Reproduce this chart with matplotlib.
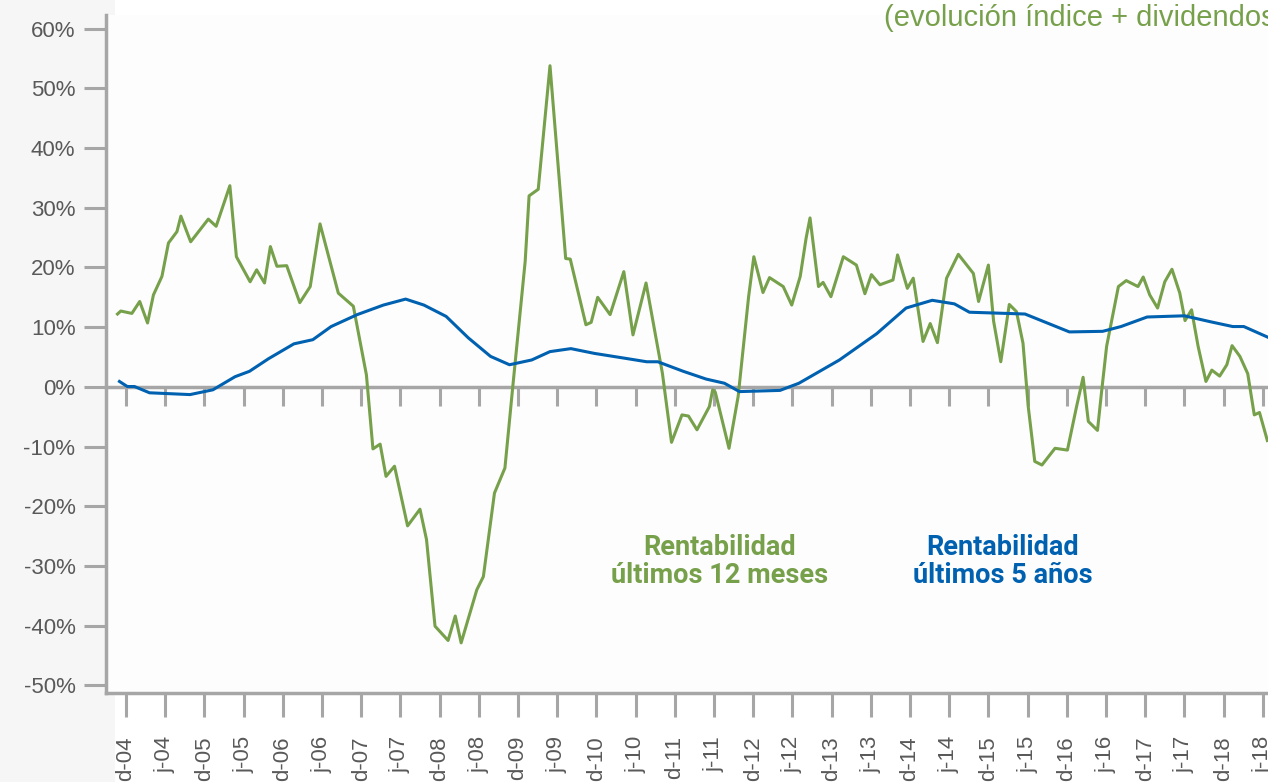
import matplotlib.pyplot as plt
from matplotlib.patches import Rectangle

# months counted from the first tick ("d-04"), one tick every 6 months
tick_labels = []
for yy in range(4, 19):
    tick_labels += [f"d-{yy:02d}", f"j-{yy:02d}"]
tick_pos = [6 * i for i in range(len(tick_labels))]

# Rentabilidad ultimos 12 meses (%)
green_x = [-1.3, -0.8, 0.9, 2.1, 3.3, 4.2, 5.5, 6.5, 7.8, 8.4, 9.9, 12.6, 13.8, 15.9,
           16.9, 19.0, 20.0, 21.2, 22.1, 23.1, 24.6, 26.6, 28.2, 29.7, 32.5, 34.8,
           36.8, 37.8, 38.9, 39.8, 41.1, 43.1, 45.0, 46.0, 47.3, 49.3, 50.4, 51.3,
           53.7, 54.7, 56.4, 58.0, 59.2, 61.1, 61.7, 63.1, 64.9, 67.3, 68.0, 70.4,
           71.2, 72.2, 74.1, 76.2, 77.6, 79.6, 82.1, 83.5, 85.1, 86.1, 87.4, 89.3,
           89.8, 90.2, 92.3, 93.7, 95.3, 96.1, 97.5, 98.5, 100.6, 101.9, 103.2,
           104.1, 104.7, 106.0, 106.7, 107.9, 109.8, 111.8, 113.1, 114.1, 115.4,
           117.4, 118.1, 119.6, 120.5, 122.0, 123.1, 124.2, 125.6, 127.4, 129.7,
           130.5, 132.0, 132.8, 133.9, 135.2, 136.3, 137.3, 138.1, 139.1, 140.2,
           142.2, 144.1, 145.5, 146.5, 147.3, 148.7, 149.3, 150.1, 151.9, 153.1,
           154.9, 155.7, 156.7, 157.9, 159.0, 160.1, 161.3, 162.1, 163.1, 164.1,
           165.3, 166.2, 167.4, 168.5, 169.3, 170.5, 171.7, 172.7, 173.5, 174.7]
green_y = [12.2, 12.7, 12.3, 14.3, 10.7, 15.4, 18.5, 24.1, 26.0, 28.6, 24.3, 28.1, 26.9,
           33.7, 21.8, 17.6, 19.6, 17.4, 23.5, 20.2, 20.3, 14.1, 16.8, 27.3, 15.7,
           13.5, 2.0, -10.4, -9.6, -15.0, -13.3, -23.3, -20.5, -25.6, -40.1, -42.5,
           -38.4, -42.9, -34.0, -31.8, -17.8, -13.6, 0.0, 21.0, 32.0, 33.1, 53.8,
           21.5, 21.4, 10.4, 10.8, 15.0, 12.1, 19.3, 8.7, 17.4, 2.3, -9.3, -4.7,
           -4.9, -7.2, -3.3, -0.5, -0.9, -10.3, -1.6, 15.1, 21.8, 15.8, 18.3, 16.8,
           13.7, 18.5, 24.9, 28.3, 16.8, 17.5, 15.1, 21.8, 20.4, 15.6, 18.8, 17.1,
           17.9, 22.1, 16.5, 18.2, 7.6, 10.6, 7.4, 18.2, 22.2, 19.0, 14.3, 20.4,
           11.0, 4.2, 13.8, 12.6, 7.3, -3.3, -12.5, -13.1, -10.3, -10.6, -3.3, 1.6,
           -5.8, -7.3, -1.1, 6.8, 16.8, 17.8, 16.8, 18.4, 15.4, 13.2, 17.6, 19.7,
           15.7, 11.1, 12.9, 6.8, 0.9, 2.8, 1.8, 3.7, 6.9, 5.1, 2.2, -4.7, -4.3, -9.0]

# Rentabilidad ultimos 5 anos (%)
blue_x = [-1.0, 0.2, 1.3, 3.6, 9.8, 13.3, 16.7, 18.9, 21.8, 25.7, 28.6, 31.4, 35.4,
          39.4, 42.8, 45.6, 49.0, 52.4, 55.8, 58.7, 62.1, 64.9, 68.1, 71.7, 76.3,
          79.7, 81.4, 85.3, 88.8, 91.6, 93.9, 100.1, 103.0, 109.2, 114.9, 119.4,
          123.4, 126.8, 129.1, 137.6, 141.0, 144.4, 149.5, 152.3, 156.3, 162.0,
          166.0, 169.4, 171.1, 174.8]
blue_y = [0.9, 0.05, 0.05, -1.0, -1.3, -0.5, 1.7, 2.6, 4.7, 7.2, 7.9, 10.1, 12.1, 13.7,
          14.7, 13.7, 11.8, 8.2, 5.1, 3.7, 4.5, 5.9, 6.4, 5.6, 4.8, 4.2, 4.2, 2.6,
          1.3, 0.6, -0.8, -0.6, 0.6, 4.5, 8.9, 13.2, 14.5, 13.9, 12.5, 12.2, 10.7,
          9.2, 9.3, 10.1, 11.7, 11.9, 10.9, 10.1, 10.1, 8.3]

y_ticks = list(range(-50, 61, 10))

GREEN = "#77a04b"
BLUE = "#0061b0"
AXIS = "#a6a6a6"
LABEL = "#595959"

plt.rcParams["font.family"] = ["Liberation Sans", "DejaVu Sans"]

fig = plt.figure(figsize=(12.68, 7.82), dpi=100, facecolor="white")
fig.patches.append(Rectangle((0, 0), 115 / 1268, 1, transform=fig.transFigure,
                             facecolor="#f6f6f6", edgecolor="none", zorder=-10))
ax = fig.add_axes([106 / 1268, 1 - 693 / 782, 1 - 106 / 1268, (693 - 15) / 782])
ax.set_facecolor("#fdfdfd")

ax.plot(green_x, green_y, color=GREEN, lw=2.2, solid_joinstyle="round", zorder=3)
ax.plot(blue_x, blue_y, color=BLUE, lw=2.2, solid_joinstyle="round", zorder=4)

ax.set_xlim(-3.06, 174.8)
ax.set_ylim(-51.3, 62.3)

# y axis
ax.set_yticks(y_ticks)
ax.set_yticklabels([f"{v}%" for v in y_ticks])
ax.tick_params(axis="y", length=16, width=2.2, color=AXIS, pad=6,
               labelsize=16, labelcolor=LABEL)

# zero line with ticks, no labels
ax.spines["bottom"].set_position(("data", 0))
ax.set_xticks(tick_pos)
ax.tick_params(axis="x", length=14, width=2.2, color=AXIS, labelbottom=False)

# bottom axis with the date labels
sec = ax.secondary_xaxis(0.0)
sec.set_xticks(tick_pos)
sec.set_xticklabels(tick_labels, rotation=90)
sec.tick_params(axis="x", length=17, width=2.2, color=AXIS, pad=14,
                labelsize=16, labelcolor=LABEL)
sec.spines["bottom"].set_color(AXIS)
sec.spines["bottom"].set_linewidth(2.5)

for side in ["top", "right"]:
    ax.spines[side].set_visible(False)
for side in ["left", "bottom"]:
    ax.spines[side].set_color(AXIS)
    ax.spines[side].set_linewidth(2.5)

ax.text(90.9, -29.3, "Rentabilidad\núltimos 12 meses", color=GREEN, ha="center",
        va="center", fontsize=19.5, fontweight="bold", family="Roboto", linespacing=1.02)
ax.text(134.2, -29.3, "Rentabilidad\núltimos 5 años", color=BLUE, ha="center",
        va="center", fontsize=19.5, fontweight="bold", family="Roboto", linespacing=1.02)

fig.text(884 / 1268, 1 - 18 / 782, "(evolución índice + dividendos)", color=GREEN,
         ha="left", va="center", fontsize=21)

fig.savefig("out.png", dpi=100)
